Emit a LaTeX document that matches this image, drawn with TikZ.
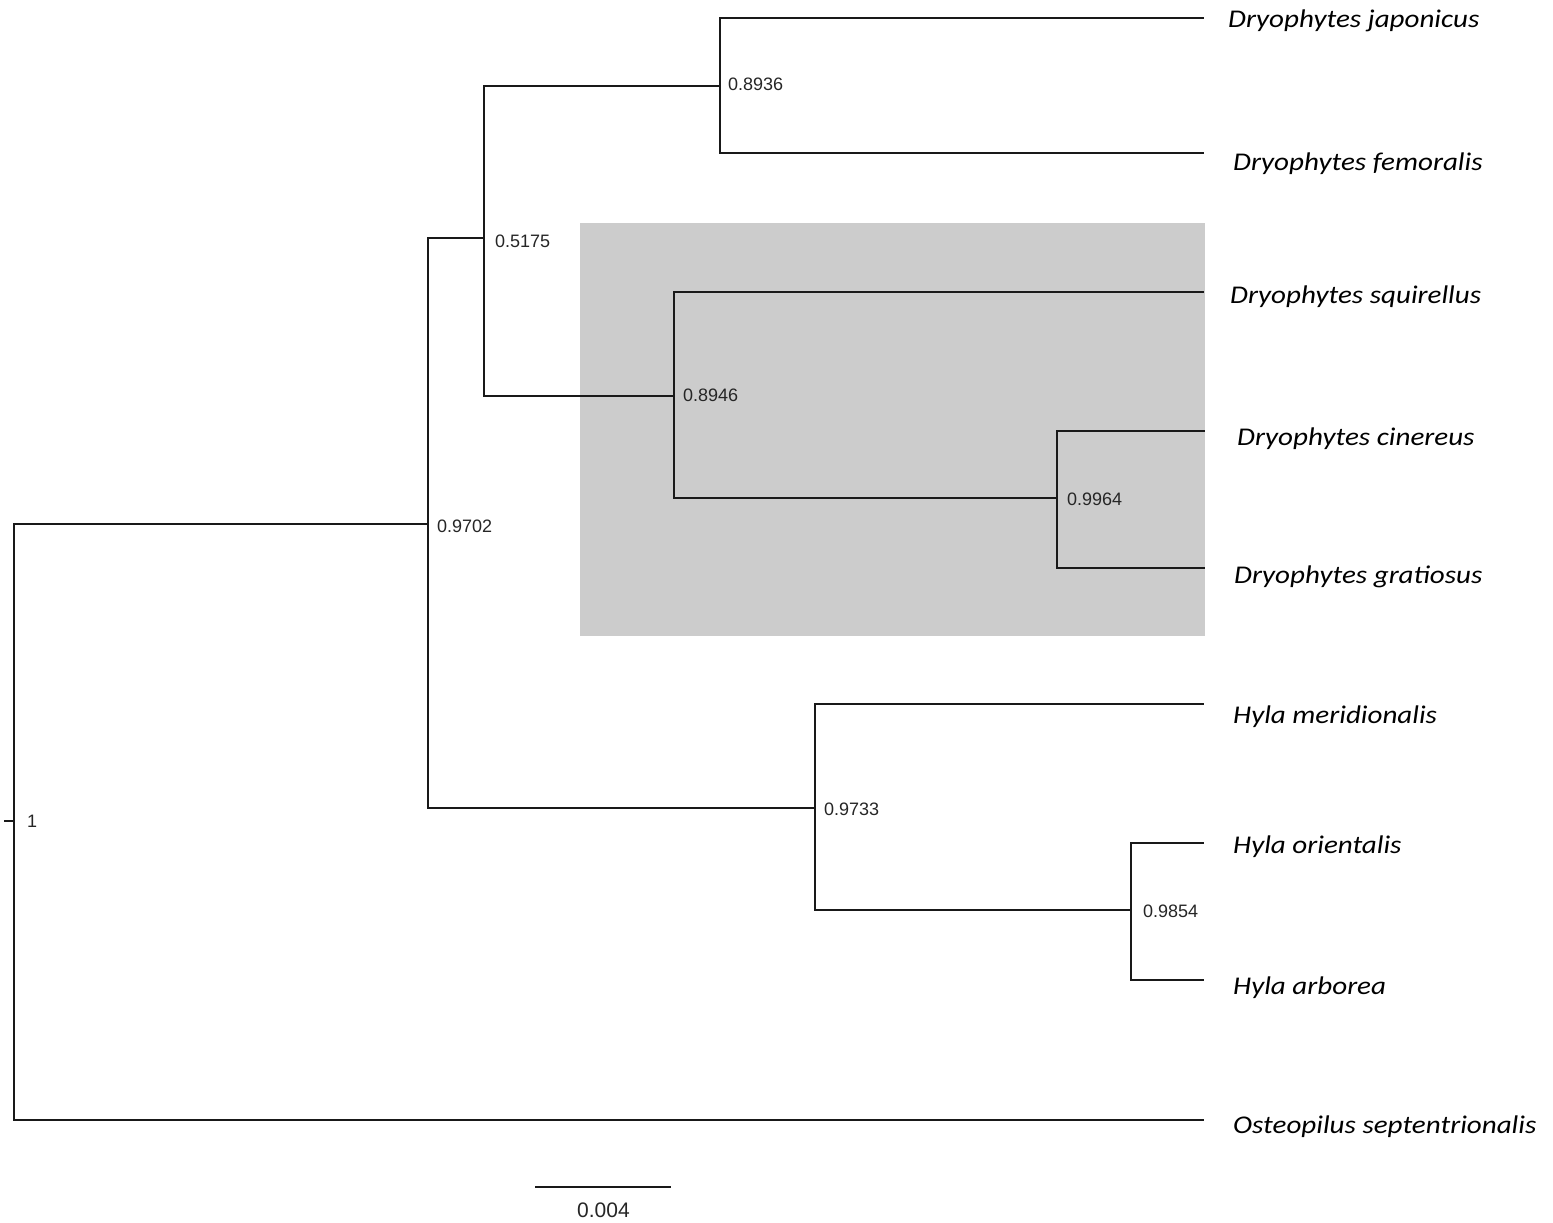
\documentclass[tikz,border=0pt]{standalone}
\usepackage{fontspec}
\newfontfamily\taxonfont[FakeStretch=1.14]{Carlito}
\newfontfamily\supportfont{Liberation Sans}
\begin{document}
\begin{tikzpicture}[x=1pt,y=-1pt,
  branch/.style={draw=black!90,line width=1.7pt},
  taxon/.style={anchor=base west,inner sep=0pt,font=\taxonfont\itshape\fontsize{25.5}{25.5}\selectfont},
  support/.style={anchor=base west,inner sep=0pt,text=black!85,font=\supportfont\fontsize{18}{18}\selectfont},
  clade/.style={fill=black!20,draw=none}]
\useasboundingbox (0,0) rectangle (1553,1223);
\fill[white] (0,0) rectangle (1553,1223);

% highlighted clade
\path[clade] (580,223) rectangle (1205,636);

% internal nodes
\coordinate (root) at (14,821);
\coordinate (rtick) at (4,821);
\coordinate (n9702) at (428,524);
\coordinate (n5175) at (484,238);
\coordinate (n8936) at (720,86);
\coordinate (n8946) at (674,396);
\coordinate (n9964) at (1057,498);
\coordinate (n9733) at (815,808);
\coordinate (n9854) at (1131,910);

% leaf tips
\coordinate (jap) at (1204,18);
\coordinate (fem) at (1204,153);
\coordinate (squ) at (1204,292);
\coordinate (cin) at (1205,431);
\coordinate (gra) at (1205,568);
\coordinate (mer) at (1204,704);
\coordinate (ori) at (1204,843);
\coordinate (arb) at (1204,980);
\coordinate (ost) at (1204,1120);

% branches
\draw[branch] (rtick) -- (root);
\draw[branch] (root) |- (n9702);
\draw[branch] (root) |- (ost);
\draw[branch] (n9702) |- (n5175);
\draw[branch] (n9702) |- (n9733);
\draw[branch] (n5175) |- (n8936);
\draw[branch] (n5175) |- (n8946);
\draw[branch] (n8936) |- (jap);
\draw[branch] (n8936) |- (fem);
\draw[branch] (n8946) |- (squ);
\draw[branch] (n8946) |- (n9964);
\draw[branch] (n9964) |- (cin);
\draw[branch] (n9964) |- (gra);
\draw[branch] (n9733) |- (mer);
\draw[branch] (n9733) |- (n9854);
\draw[branch] (n9854) |- (ori);
\draw[branch] (n9854) |- (arb);

% support values
\node[support] (s1) at (27,827) {1};
\node[support] (s9702) at (437,532) {0.9702};
\node[support] (s5175) at (495,247) {0.5175};
\node[support] (s8936) at (728,91) {0.8936};
\node[support] (s8946) at (683,401) {0.8946};
\node[support] (s9964) at (1067,505) {0.9964};
\node[support] (s9733) at (824,815) {0.9733};
\node[support] (s9854) at (1143,917) {0.9854};

% taxon names
\node[taxon] (tjap) at (1228,28) {Dryophytes japonicus};
\node[taxon] (tfem) at (1233,170) {Dryophytes femoralis};
\node[taxon] (tsqu) at (1230,303) {Dryophytes squirellus};
\node[taxon] (tcin) at (1237,445) {Dryophytes cinereus};
\node[taxon] (tgra) at (1234,583) {Dryophytes gratiosus};
\node[taxon] (tmer) at (1233,723) {Hyla meridionalis};
\node[taxon] (tori) at (1233,853) {Hyla orientalis};
\node[taxon] (tarb) at (1233,994) {Hyla arborea};
\node[taxon] (tost) at (1233,1133) {Osteopilus septentrionalis};

% scale bar
\coordinate (sbl) at (535,1187);
\coordinate (sbr) at (671,1187);
\draw[branch] (sbl) -- (sbr);
\node[support,font=\supportfont\fontsize{21}{21}\selectfont] (sbt) at (577,1217) {0.004};
\end{tikzpicture}
\end{document}
